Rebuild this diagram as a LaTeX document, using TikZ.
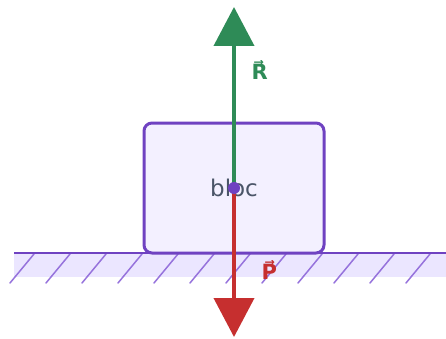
\documentclass[tikz,border=0pt]{standalone}
\usepackage{fontspec}
\setmainfont{DejaVu Sans}
\usepackage{tikz}
\usetikzlibrary{arrows.meta, positioning}
\usepackage{xcolor}
\definecolor{blocpurple}{RGB}{111, 66, 193}
\definecolor{blocfill}{RGB}{243, 240, 255}
\definecolor{groundfill}{RGB}{235, 230, 255}
\definecolor{hatchpurple}{RGB}{150, 115, 220}
\definecolor{reactgreen}{RGB}{46, 139, 87}
\definecolor{weightred}{RGB}{198, 47, 47}
\definecolor{textgray}{RGB}{74, 85, 104}

\begin{document}
\begin{tikzpicture}[x=1pt, y=1pt, line cap=round, line join=round, >=Triangle,
	bloc/.style={draw=blocpurple, line width=3pt, fill=blocfill, rounded corners=8pt,
		minimum width=180pt, minimum height=130pt, text=textgray,
		font=\fontsize{23}{27}\selectfont},
	forcelabel/.style={anchor=west, font=\bfseries\fontsize{21}{25}\selectfont},
	force/.style={line width=4pt, line cap=butt, -{Triangle[length=39pt, width=40pt]}}]
	\useasboundingbox (0,0) rectangle (446,338);

	% ground
	\fill[groundfill] (14,61) rectangle (446,85);
	\foreach \k in {0,...,11}
		\draw[hatchpurple, line width=1.5pt] (10+36*\k,55) -- (34+36*\k,84);
	\coordinate (GL) at (14,85);
	\coordinate (GR) at (446,85);
	\draw[blocpurple, line width=2.5pt, line cap=butt] (GL) -- (GR);

	% block and its centre
	\node[bloc] (B) at (234,150) {bloc};
	\coordinate (Rtip) at (234,331);
	\coordinate (Ptip) at (234,1);

	% forces R and P
	\draw[force, reactgreen] (B.center) -- (Rtip);
	\draw[force, weightred] (B.center) -- (Ptip);
	\node[circle, fill=blocpurple, inner sep=0pt, minimum size=12pt] (G) at (B.center) {};

	\node[forcelabel, text=reactgreen] (lR) at (248,268) {R⃗};
	\node[forcelabel, text=weightred] (lP) at (258,68) {P⃗};
\end{tikzpicture}
\end{document}
